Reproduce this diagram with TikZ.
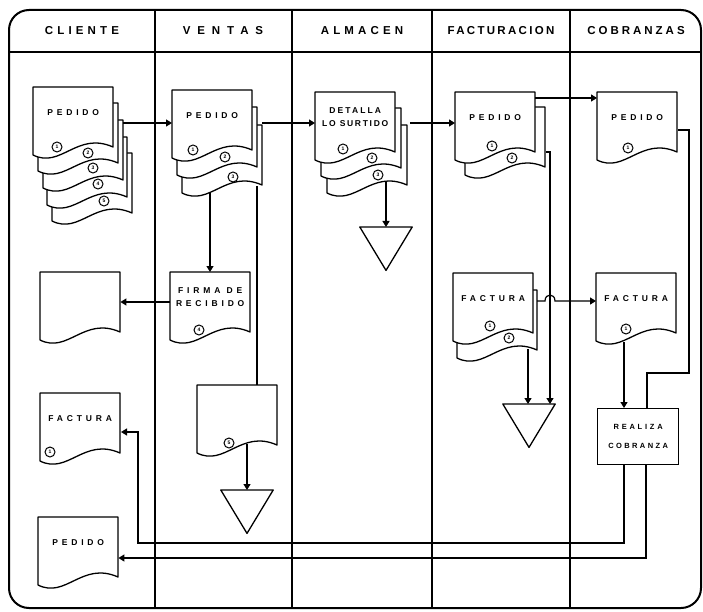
\documentclass[tikz,border=0pt]{standalone}
\usepackage{fontspec}
\setmainfont{Liberation Sans}
\newfontfamily\hdrfont[LetterSpace=36]{Liberation Sans Bold}
\newfontfamily\docfont[LetterSpace=45]{Liberation Sans Bold}
\usetikzlibrary{arrows.meta}

\tikzset{
  lane/.style={line width=1.4pt},
  link/.style={line width=1.2pt},
  flow/.style={line width=1.2pt, -{Triangle[length=6pt,width=7pt]}},
  docline/.style={line width=1.3pt, fill=white, line join=round},
  docbox/.style={anchor=north west, minimum width=80pt, minimum height=50pt,
    inner sep=0pt, align=center, font=\docfont\fontsize{8.5}{13}\selectfont},
  procbox/.style={draw, line width=1.3pt, anchor=north west, minimum width=81pt,
    minimum height=56pt, inner sep=0pt, align=center,
    font=\docfont\fontsize{7.5}{19}\selectfont},
  lanehead/.style={font=\hdrfont\fontsize{11.5}{13}\selectfont},
  num/.style={circle, draw, line width=1pt, minimum size=10pt, inner sep=0pt,
    fill=white, font=\docfont\fontsize{5}{5}\selectfont},
  tribox/.style={anchor=north, minimum width=52pt, minimum height=43pt, inner sep=0pt}
}

% document outline, top left corner at (#1,#2)
\newcommand{\docshape}[2]{%
  \begin{scope}[shift={(#1,#2)}]
    \draw[docline] (0,0) -- (80,0) -- (80,60) .. controls (44,44) and (28,82) .. (0,68) -- cycle;
  \end{scope}}
% named document: #1 name, (#2,#3) top left, #4 text
\newcommand{\doc}[4]{%
  \docshape{#2}{#3}
  \node[docbox] (#1) at (#2,#3) {#4};}
% file symbol (triangle), #1 name, (#2,#3) middle of top edge
\newcommand{\archivo}[3]{%
  \node[tribox] (#1) at (#2,#3) {};
  \draw[docline] (#1.north west) -- (#1.north east) -- (#1.south) -- cycle;}

\begin{document}
\begin{tikzpicture}[x=1pt, y=-1pt]
  \useasboundingbox (0,0) rectangle (703,612);

  % frame and lanes
  \draw[line width=2pt, rounded corners=20pt] (9,10) rectangle (701,608);
  \draw[lane] (9,52) -- (701,52);
  \foreach \lx in {155,292,432,570}
    \draw[lane] (\lx,10) -- (\lx,608);
  \node[lanehead] (hcli) at (82,31) {CLIENTE};
  \node[lanehead] (hven) at (223,31) {\addfontfeature{LetterSpace=60}VENTAS};
  \node[lanehead] (halm) at (362,31) {ALMACEN};
  \node[lanehead] (hfac) at (501,31) {\addfontfeature{LetterSpace=20}FACTURACION};
  \node[lanehead] (hcob) at (636,31) {\addfontfeature{LetterSpace=26}COBRANZAS};

  % cliente
  \foreach \cx/\cy in {52/153, 47/137, 43/120, 38/103}
    {\docshape{\cx}{\cy}}
  \doc{cped}{33}{87}{PEDIDO}
  \doc{cblank}{40}{272}{}
  \doc{cfact}{40}{393}{FACTURA}
  \doc{cped2}{38}{517}{PEDIDO}

  % ventas
  \foreach \cx/\cy in {182/125, 177/107}
    {\docshape{\cx}{\cy}}
  \doc{vped}{172}{90}{PEDIDO}
  \doc{vfirma}{170}{272}{FIRMA DE\\RECIBIDO}
  \doc{vcopia}{197}{385}{}
  \archivo{vtri}{247}{490}

  % almacen
  \foreach \cx/\cy in {327/125, 321/108}
    {\docshape{\cx}{\cy}}
  \doc{adet}{315}{92}{\addfontfeature{LetterSpace=25}DETALLA\\\addfontfeature{LetterSpace=20}LO SURTIDO}
  \archivo{atri}{386}{227}

  % facturacion
  \docshape{465}{107}
  \doc{fped}{455}{92}{PEDIDO}
  \docshape{457}{290}
  \doc{ffact}{453}{273}{FACTURA}
  \archivo{ftri}{529}{404}

  % cobranzas
  \doc{bped}{597}{92}{PEDIDO}
  \doc{bfact}{596}{273}{FACTURA}
  \node[procbox] (bcobr) at (597,408) {\addfontfeature{LetterSpace=37}REALIZA\\\addfontfeature{LetterSpace=32}COBRANZA};

  % copy numbers
  \foreach \nn/\nx/\ny/\nt in {cn1/57/147/1, cn2/88/153/2, cn3/93/168/3, cn4/98/184/4,
      cn5/104/201/5, dn1/50/452/1, vn1/193/150/1, vn2/225/157/2, vn3/233/177/3,
      vn4/199/330/4, vn5/229/443/5, an1/343/149/1, an2/372/158/2, an3/378/175/3,
      fn1/492/146/1, fn2/512/158/2, gn1/490/326/1, gn2/509/338/2,
      bn1/628/148/1, bn2/626/329/1}
    \node[num] (\nn) at (\nx,\ny) {\nt};

  % connector ends
  \coordinate (s1) at (123,123);
  \coordinate (s2) at (262,123);
  \coordinate (s3) at (410,123);
  \coordinate (s4) at (535,98);
  \coordinate (s5) at (210,192);
  \coordinate (s6) at (257,186);
  \coordinate (s7) at (170,302);
  \coordinate (s8) at (247,444);
  \coordinate (s9) at (386,182);
  \coordinate (s10) at (546,152);
  \coordinate (j1) at (550,152);
  \coordinate (s11) at (528,349);
  \coordinate (s12) at (537,301);
  \coordinate (s13) at (678,130);
  \coordinate (m1) at (689,373);
  \coordinate (m2) at (647,373);
  \coordinate (s14) at (624,342);
  \coordinate (o1) at (624,543);
  \coordinate (o2) at (138,543);
  \coordinate (t1) at (121,432);
  \coordinate (p1) at (646,558);

  % pedido flow
  \draw[flow] (s1) -- (s1 -| vped.west);
  \draw[flow] (s2) -- (s2 -| adet.west);
  \draw[flow] (s3) -- (s3 -| fped.west);
  \draw[flow] (s4) -- (s4 -| bped.west);
  \draw[flow] (s5) -- (s5 |- vfirma.north);
  \draw[link] (s6) -- (s6 |- vcopia.north);
  \draw[flow] (s7) -- (s7 -| cblank.east);
  \draw[flow] (s8) -- (vtri.north);
  \draw[flow] (s9) -- (atri.north);

  % facturacion to files and cobranzas
  \draw[flow] (s10) -- (j1) -- (j1 |- ftri.north);
  \draw[flow] (s11) -- (s11 |- ftri.north);
  \draw[flow] (s12) -- (545,301) .. controls (545,293) and (555,293) .. (555,301) -- (s12 -| bfact.west);
  \draw[link] (s13) -| (m1) -- (m2) -- (m2 |- bcobr.north);
  \draw[flow] (s14) -- (s14 |- bcobr.north);

  % return to cliente
  \draw[flow] (o1 |- bcobr.south) -- (o1) -- (o2) |- (t1);
  \draw[flow] (p1 |- bcobr.south) -- (p1) -- (p1 -| cped2.east);
\end{tikzpicture}
\end{document}
